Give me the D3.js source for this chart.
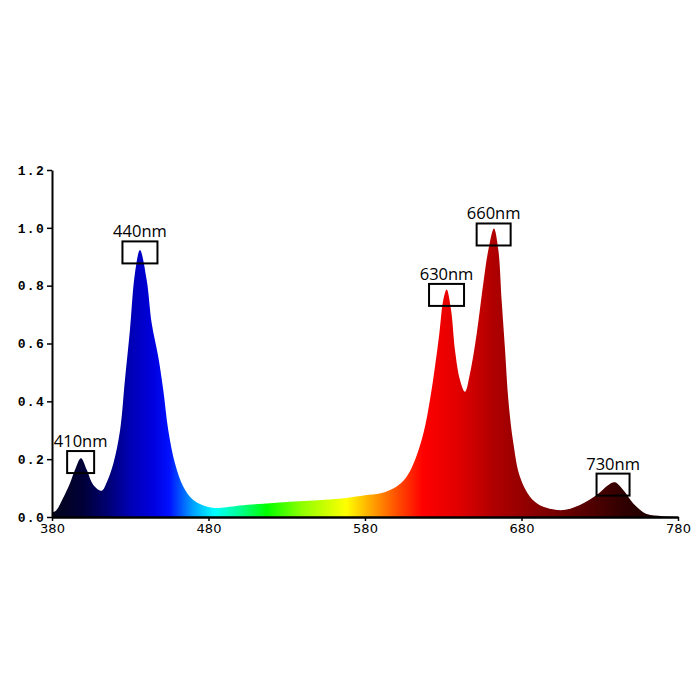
<!DOCTYPE html>
<html>
<head>
<meta charset="utf-8">
<script src="https://cdn.jsdelivr.net/npm/d3@7"></script>
<style>
    body { margin: 0; background: #fff; }
</style>
</head>
<body>
<svg id="spectrum"></svg>
<script>
// spectrum (wavelength nm, relative intensity)
const wavelengths = [380, 382.5, 387, 391.5, 394.7, 398.5, 402.2, 406.4, 411.8, 415, 419.2, 423.5, 426.6, 429.8,
    433, 436.2, 440.5, 443.7, 447.9, 451.1, 454.3, 458.6, 463.9, 470.3, 478.8, 484, 491.6, 500, 515, 532,
    550, 568, 580, 590, 600, 606, 611, 617.3, 621.5, 624.7, 627.5, 630, 632.2, 635, 637.5, 640.7, 643.9,
    647.1, 651.4, 655.6, 658.8, 662.4, 665.2, 667.3, 669.5, 671.6, 674.8, 679, 685.4, 692, 700, 707, 717,
    728, 735.5, 739.7, 745, 751.4, 760, 770, 780];
const intensity = [0.017, 0.022, 0.065, 0.117, 0.163, 0.203, 0.163, 0.111, 0.091, 0.12, 0.185, 0.30, 0.474, 0.647,
    0.843, 0.923, 0.82, 0.67, 0.554, 0.439, 0.30, 0.185, 0.105, 0.059, 0.036, 0.031, 0.034, 0.04, 0.046, 0.053,
    0.058, 0.066, 0.075, 0.082, 0.105, 0.135, 0.185, 0.289, 0.405, 0.52, 0.635, 0.75, 0.787, 0.716, 0.577, 0.474, 0.433,
    0.497, 0.635, 0.808, 0.923, 0.998, 0.923, 0.75, 0.577, 0.405, 0.255, 0.139, 0.07, 0.04, 0.027, 0.024, 0.041,
    0.076, 0.111, 0.12, 0.093, 0.047, 0.01, 0.003, 0];

// colour of the fill along the wavelength axis
const gradWl = [380, 400, 415, 430, 445, 455, 470, 484, 500, 517, 540, 568, 585, 600, 617, 640, 662, 705, 745, 780];
const gradColor = ["#05051c", "#000038", "#000070", "#0000b4", "#0000e0", "#0010ff", "#00a0ff", "#00ffff",
    "#00ff90", "#00ff00", "#90ff00", "#ffff00", "#ffa000", "#ff5000", "#ff0000", "#e00000", "#b00000",
    "#700000", "#300000", "#100000"];

// peak labels, anchored on the box centre
const peakLabels = ["410nm", "440nm", "630nm", "660nm", "730nm"];
const peakWl = [398.3, 436.2, 632.1, 662.2, 738.5];
const peakVal = [0.19, 0.915, 0.768, 0.977, 0.112];

const xTicks = [380, 480, 580, 680, 780];
const yTicks = [0, 0.2, 0.4, 0.6, 0.8, 1.0, 1.2];

const width = 700, height = 700;
const margin = { top: 170, right: 22, bottom: 183, left: 52 };
const boxW = [27, 35, 35, 34, 33], boxH = 22;

const svg = d3.select("#spectrum").attr("width", width).attr("height", height);

const x = d3.scaleLinear()
    .domain([380, 780])
    .range([margin.left, width - margin.right]);

const y = d3.scaleLinear()
    .domain([0, 1.2])
    .range([height - margin.bottom, margin.top]);

const data = wavelengths.map((w, i) => ({ wl: w, v: intensity[i] }));

const grad = svg.append("defs").append("linearGradient")
    .attr("id", "rainbow")
    .attr("gradientUnits", "userSpaceOnUse")
    .attr("x1", x(380)).attr("x2", x(780))
    .attr("y1", 0).attr("y2", 0);

grad.selectAll("stop")
    .data(gradWl)
    .join("stop")
    .attr("offset", d => (d - 380) / 400)
    .attr("stop-color", (d, i) => gradColor[i]);

const area = d3.area()
    .x(d => x(d.wl))
    .y0(y(0))
    .y1(d => y(d.v))
    .curve(d3.curveCatmullRom.alpha(0.5));

svg.append("path")
    .datum(data)
    .attr("fill", "url(#rainbow)")
    .attr("d", area);

// axes
const yAxis = g => {
    g.attr("transform", `translate(${margin.left},0)`)
        .call(d3.axisLeft(y)
            .tickValues(yTicks)
            .tickFormat(d3.format(".1f"))
            .tickSize(5)
            .tickSizeOuter(0)
            .tickPadding(2))
        .call(g => g.select(".domain").attr("stroke-width", 2))
        .call(g => g.selectAll(".tick line").attr("stroke-width", 1.5))
        .call(g => g.selectAll("text")
            .attr("font-family", "'Liberation Mono', monospace")
            .attr("font-weight", "bold")
            .attr("font-size", 13)
            .attr("letter-spacing", 1.3)
            .attr("fill", "#000"));
};

const xAxis = g => {
    g.attr("transform", `translate(0,${y(0)})`)
        .call(d3.axisBottom(x)
            .tickValues(xTicks)
            .tickFormat(d3.format("d"))
            .tickSize(4)
            .tickSizeOuter(0)
            .tickPadding(3))
        .call(g => g.select(".domain").attr("stroke-width", 2.5))
        .call(g => g.selectAll(".tick line").attr("stroke-width", 1.5))
        .call(g => g.selectAll("text")
            .attr("font-family", "'DejaVu Sans', sans-serif")
            .attr("font-size", 13)
            .attr("fill", "#000"));
};

svg.append("g").call(xAxis);
svg.append("g").call(yAxis);

// boxes and peak names
const labels = svg.append("g")
    .selectAll("g")
    .data(peakLabels)
    .join("g")
    .attr("transform", (d, i) => `translate(${x(peakWl[i])},${y(peakVal[i])})`);

labels.append("rect")
    .attr("x", (d, i) => -boxW[i] / 2)
    .attr("y", -boxH / 2)
    .attr("width", (d, i) => boxW[i])
    .attr("height", boxH)
    .attr("fill", "none")
    .attr("stroke", "#000")
    .attr("stroke-width", 2);

labels.append("text")
    .attr("y", -boxH / 2 - 4)
    .attr("text-anchor", "middle")
    .attr("font-family", "'Open Sans', sans-serif")
    .attr("font-size", 16.5)
    .attr("fill", "#000")
    .text(d => d);
</script>
</body>
</html>
